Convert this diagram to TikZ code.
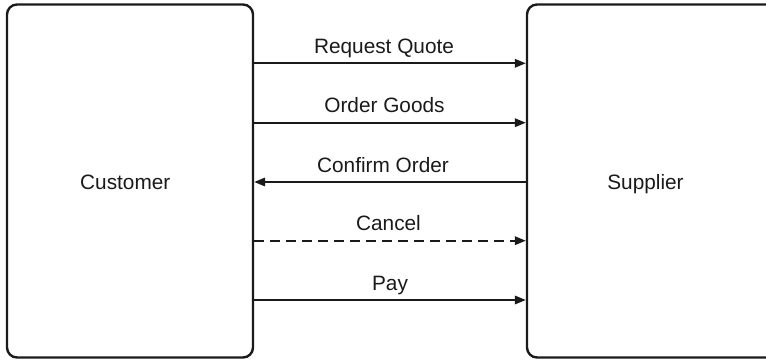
\documentclass[tikz,border=0pt]{standalone}
\usepackage{fontspec}
\setmainfont{Liberation Sans}
\usetikzlibrary{arrows.meta}

\definecolor{ink}{HTML}{1A1A1A}

\tikzset{
  party/.style={draw=ink, line width=2.4pt, rounded corners=10pt, inner sep=0pt},
  msg/.style={draw=ink, line width=1.9pt, -{Triangle[length=11pt, width=8.5pt]}},
  msgdash/.style={msg, dash pattern=on 10pt off 6pt},
  msglabel/.style={anchor=base, yshift=10pt, text=ink, font=\fontsize{20.8}{25}\selectfont},
  partylabel/.style={anchor=base, text=ink, font=\fontsize{20.8}{25}\selectfont}
}

\begin{document}
\begin{tikzpicture}[x=1pt, y=-1pt]
  \clip (0,0) rectangle (766,359);

  % the two parties (the supplier box runs past the right edge)
  \node[party, minimum width=246pt, minimum height=353pt] (cust) at (130,181) {};
  \node[party, minimum width=260pt, minimum height=353pt] (supp) at (657,181) {};

  \node[partylabel] (custname) at (125.3,189.3) {Customer};
  \node[partylabel] (suppname) at (645.5,189.3) {Supplier};

  % message levels
  \coordinate (m1) at (0,63.3);
  \coordinate (m2) at (0,122.7);
  \coordinate (m3) at (0,182);
  \coordinate (m4) at (0,240.7);
  \coordinate (m5) at (0,300);

  \draw[msg] (cust.east |- m1) -- node[msglabel, xshift=-6pt] (l1) {Request Quote} (supp.west |- m1);
  \draw[msg] (cust.east |- m2) -- node[msglabel, xshift=-5.5pt] (l2) {Order Goods} (supp.west |- m2);
  \draw[msg] (supp.west |- m3) -- node[msglabel, xshift=-7pt] (l3) {Confirm Order} (cust.east |- m3);
  \draw[msgdash] (cust.east |- m4) -- node[msglabel, xshift=-1.5pt] (l4) {Cancel} (supp.west |- m4);
  \draw[msg] (cust.east |- m5) -- node[msglabel] (l5) {Pay} (supp.west |- m5);
\end{tikzpicture}
\end{document}
